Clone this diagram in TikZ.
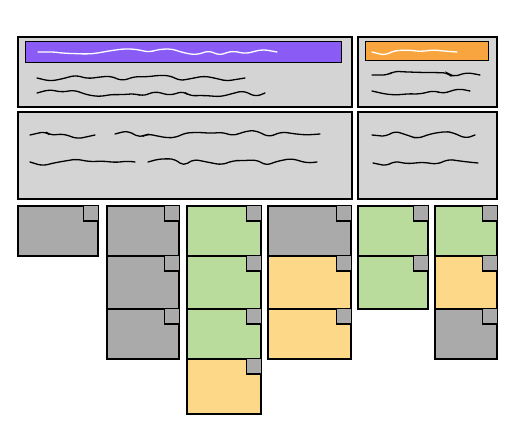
\documentclass[tikz,border=0pt]{standalone}
\usetikzlibrary{decorations.pathmorphing}
\definecolor{panelgray}{HTML}{D4D4D4}
\definecolor{cardgray}{HTML}{AAAAAA}
\definecolor{cardgreen}{HTML}{B9DC9D}
\definecolor{cardyellow}{HTML}{FDD888}
\definecolor{barpurple}{HTML}{8A5CF5}
\definecolor{barorange}{HTML}{F9A53F}
\tikzset{
  panel/.style={draw, line width=1.6pt, fill=panelgray, anchor=north west, inner sep=0pt},
  bar/.style={draw, line width=1pt, fill=#1, anchor=north west, inner sep=0pt},
  card/.style={draw, line width=1.6pt, fill=#1, anchor=north west, inner sep=0pt},
  tab/.style={draw=black, line width=1.1pt},
  scribble/.style={line width=1.3pt, line cap=round, rounded corners=5pt,
    decorate, decoration={random steps, segment length=12pt, amplitude=4pt}},
}
\begin{document}
\begin{tikzpicture}[x=1pt, y=-1pt]
      \pgfmathsetseed{11}
      \useasboundingbox (0,0) rectangle (512,427);
      \node[panel, minimum width=334pt, minimum height=70pt] (p1) at (17,36) {};
      \node[panel, minimum width=334pt, minimum height=87pt] (p2) at (17,111) {};
      \node[panel, minimum width=139pt, minimum height=70pt] (q1) at (357,36) {};
      \node[panel, minimum width=139pt, minimum height=87pt] (q2) at (357,111) {};
      \node[bar=barpurple, minimum width=316pt, minimum height=21pt] (pbar) at (25,41) {};
      \node[bar=barorange, minimum width=123pt, minimum height=19pt] (qbar) at (365,41) {};
      \draw[scribble, white] (38,52) -- (277,52);
      \draw[scribble, white] (372,52) -- (457,52);
      \draw[scribble] (37,78) -- (245,78);
      \draw[scribble] (37,93) -- (265,93);
      \draw[scribble] (30,135) -- (95,135);
      \draw[scribble] (115,134) -- (320,134);
      \draw[scribble] (30,162) -- (135,162);
      \draw[scribble] (148,162) -- (317,162);
      \draw[scribble] (372,75) -- (480,75);
      \draw[scribble] (372,91) -- (470,91);
      \draw[scribble] (372,135) -- (475,135);
      \draw[scribble] (373,163) -- (478,163);
      \node[card=cardgray, minimum width=80pt, minimum height=50pt] (a1) at (17,205) {};
      \node[card=cardgray, minimum width=72pt, minimum height=50pt] (b1) at (106,205) {};
      \node[card=cardgray, minimum width=72pt, minimum height=53pt] (b2) at (106,255) {};
      \node[card=cardgray, minimum width=72pt, minimum height=50pt] (b3) at (106,308) {};
      \node[card=cardgreen, minimum width=74pt, minimum height=50pt] (c1) at (186,205) {};
      \node[card=cardgreen, minimum width=74pt, minimum height=53pt] (c2) at (186,255) {};
      \node[card=cardgreen, minimum width=74pt, minimum height=50pt] (c3) at (186,308) {};
      \node[card=cardyellow, minimum width=74pt, minimum height=55pt] (c4) at (186,358) {};
      \node[card=cardgray, minimum width=83pt, minimum height=50pt] (d1) at (267,205) {};
      \node[card=cardyellow, minimum width=83pt, minimum height=53pt] (d2) at (267,255) {};
      \node[card=cardyellow, minimum width=83pt, minimum height=50pt] (d3) at (267,308) {};
      \node[card=cardgreen, minimum width=70pt, minimum height=50pt] (e1) at (357,205) {};
      \node[card=cardgreen, minimum width=70pt, minimum height=53pt] (e2) at (357,255) {};
      \node[card=cardgreen, minimum width=62pt, minimum height=50pt] (f1) at (434,205) {};
      \node[card=cardyellow, minimum width=62pt, minimum height=53pt] (f2) at (434,255) {};
      \node[card=cardgray, minimum width=62pt, minimum height=50pt] (f3) at (434,308) {};
      \foreach \n in {a1,b1,b2,b3,c1,c2,c3,c4,d1,d2,d3,e1,e2,f1,f2,f3} {
        \fill[cardgray] ([xshift=-15pt,yshift=-0.8pt]\n.north east) rectangle ([xshift=-0.8pt,yshift=-16pt]\n.north east);
        \draw[tab] ([xshift=-15pt,yshift=-0.8pt]\n.north east) |- ([xshift=-0.8pt,yshift=-16pt]\n.north east);
      }
    \end{tikzpicture}
\end{document}
